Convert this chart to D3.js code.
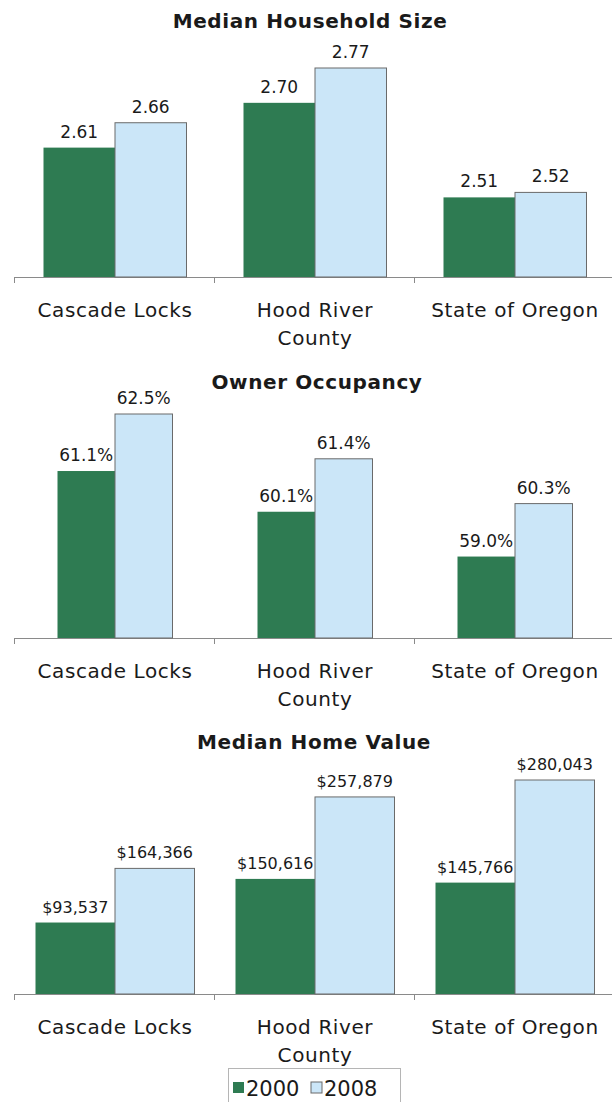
<!DOCTYPE html>
<html>
<head>
<meta charset="utf-8">
<script src="https://cdn.jsdelivr.net/npm/d3@7"></script>
<style>
  body { margin: 0; background: #fff; }
  text { font-family: "DejaVu Sans", sans-serif; fill: #1a1a1a; }
</style>
</head>
<body>
<div id="chart"></div>
<script>
// data
const categories = ["Cascade Locks", "Hood River County", "State of Oregon"]
const tickLabels = [["Cascade Locks"], ["Hood River", "County"], ["State of Oregon"]]
const years = ["2000", "2008"]

const householdSize2000 = [2.61, 2.70, 2.51]
const householdSize2008 = [2.66, 2.77, 2.52]
const ownerOcc2000 = [61.1, 60.1, 59.0]
const ownerOcc2008 = [62.5, 61.4, 60.3]
const homeValue2000 = [93537, 150616, 145766]
const homeValue2008 = [164366, 257879, 280043]

const width = 612, height = 1102
const colors = { "2000": "#2e7b52", "2008": "#cbe6f8" }

let svg = d3.select("#chart")
    .append("svg")
    .attr("width", width)
    .attr("height", height)

let x = d3.scaleBand()
    .domain(categories)
    .range([15, 615])

//one panel per measure
function drawPanel(cfg) {
    let rows = categories.map((c, i) => ({ cat: c, i: i, "2000": cfg.a[i], "2008": cfg.b[i] }))

    let y = d3.scaleLinear()
        .domain([cfg.yMin, d3.max(cfg.b.concat(cfg.a))])
        .range([cfg.base, cfg.top])

    let inner = d3.scaleBand()
        .domain(years)
        .range([-cfg.groupW / 2, cfg.groupW / 2])

    let g = svg.append("g")

    g.append("text")
        .attr("x", cfg.titleX)
        .attr("y", cfg.titleY)
        .attr("text-anchor", "middle")
        .style("font-size", "20px")
        .style("font-weight", "bold")
        .style("letter-spacing", "0.6px")
        .text(cfg.title)

    // axis line + ticks at band edges
    g.append("line")
        .attr("x1", 14).attr("x2", width)
        .attr("y1", cfg.base + 0.5).attr("y2", cfg.base + 0.5)
        .attr("stroke", "#8a8a8a")
    g.selectAll(".tick")
        .data(categories)
        .enter()
        .append("line")
        .attr("x1", d => Math.round(x(d)) - 0.5)
        .attr("x2", d => Math.round(x(d)) - 0.5)
        .attr("y1", cfg.base)
        .attr("y2", cfg.base + 6)
        .attr("stroke", "#8a8a8a")

    let groups = g.selectAll(".grp")
        .data(rows)
        .enter()
        .append("g")
        .attr("transform", d => "translate(" + (x(d.cat) + x.bandwidth() / 2) + ",0)")

    years.forEach(yr => {
        groups.append("rect")
            .attr("x", inner(yr))
            .attr("y", d => y(d[yr]))
            .attr("width", inner.bandwidth())
            .attr("height", d => cfg.base - y(d[yr]))
            .attr("fill", colors[yr])
            .attr("stroke", yr == "2008" ? "#6a6a6a" : "none")
            .attr("stroke-width", 1)

        groups.append("text")
            .attr("x", inner(yr) + inner.bandwidth() / 2)
            .attr("y", d => y(d[yr]) - 10)
            .attr("text-anchor", "middle")
            .style("font-size", cfg.valSize + "px")
            .text(d => cfg.fmt(d[yr]))
    })

    // category names
    groups.each(function (d) {
        let lines = tickLabels[d.i]
        d3.select(this).selectAll(".cat")
            .data(lines)
            .enter()
            .append("text")
            .attr("x", 0)
            .attr("y", (t, k) => cfg.base + 40 + k * 28)
            .attr("text-anchor", "middle")
            .style("font-size", "20px")
            .style("letter-spacing", "0.6px")
            .text(t => t)
    })
}

drawPanel({
    title: "Median Household Size", titleX: 310, titleY: 28,
    a: householdSize2000, b: householdSize2008,
    yMin: 2.35, base: 277, top: 68, groupW: 143, valSize: 17,
    fmt: d3.format(".2f")
})

drawPanel({
    title: "Owner Occupancy", titleX: 317, titleY: 389,
    a: ownerOcc2000, b: ownerOcc2008,
    yMin: 57, base: 638, top: 414, groupW: 115, valSize: 17,
    fmt: v => d3.format(".1f")(v) + "%"
})

drawPanel({
    title: "Median Home Value", titleX: 314, titleY: 749,
    a: homeValue2000, b: homeValue2008,
    yMin: 0, base: 994, top: 780, groupW: 159, valSize: 16,
    fmt: d3.format("$,")
})

// legend
let leg = svg.append("g").attr("transform", "translate(228,1068)")
leg.append("rect")
    .attr("x", 0.5).attr("y", 0.5)
    .attr("width", 172).attr("height", 40)
    .attr("fill", "#fff")
    .attr("stroke", "#b5b5b5")
let items = leg.selectAll(".item")
    .data(years)
    .enter()
    .append("g")
    .attr("transform", (d, i) => "translate(" + (5 + i * 78) + ",0)")
items.append("rect")
    .attr("x", 0).attr("y", 14)
    .attr("width", 11).attr("height", 11)
    .attr("fill", d => colors[d])
    .attr("stroke", d => d == "2008" ? "#6a6a6a" : "none")
items.append("text")
    .attr("x", 13).attr("y", 28)
    .style("font-size", "21px")
    .text(d => d)
</script>
</body>
</html>
